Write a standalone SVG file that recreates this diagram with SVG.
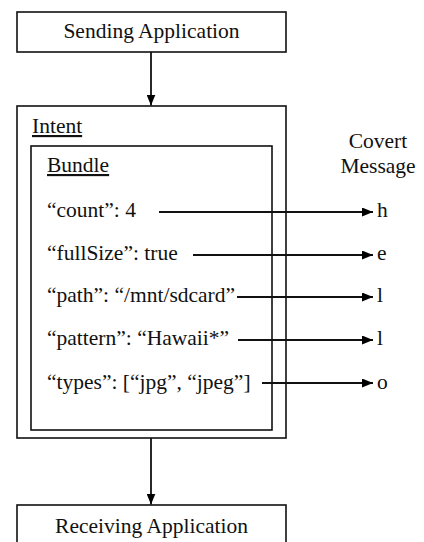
<svg xmlns="http://www.w3.org/2000/svg" width="424" height="542" viewBox="0 0 424 542">
<defs>
<marker id="ah" markerUnits="userSpaceOnUse" markerWidth="11" markerHeight="9" refX="11" refY="4.5" orient="auto">
<path d="M0,0 L11,4.5 L0,9 z" fill="#000"/>
</marker>
<style>
text{font-family:'Liberation Serif','Times New Roman',serif;font-size:21.5px;fill:#111}
.box{fill:#fff;stroke:#111;stroke-width:1.6}
.c{fill:none;stroke:#111;stroke-width:1.8;marker-end:url(#ah)}
.m{text-anchor:middle}
.u{text-decoration:underline}
</style>
</defs>
<rect width="424" height="542" fill="#fff"/>
<g id="sending">
<rect class="box" x="17" y="12" width="269" height="40"/>
<text class="m" x="151.5" y="38">Sending Application</text>
</g>
<g id="intent">
<rect class="box" x="17" y="106" width="269" height="332"/>
<text class="u" x="32" y="133">Intent</text>
</g>
<g id="bundle">
<rect class="box" x="31" y="146" width="241" height="284"/>
<text class="u" x="47" y="172">Bundle</text>
<text x="47" y="217">“count”: 4</text>
<text x="47" y="260">“fullSize”: true</text>
<text x="47" y="302">“path”: “/mnt/sdcard”</text>
<text x="47" y="345">“pattern”: “Hawaii*”</text>
<text x="47" y="389">“types”: [“jpg”, “jpeg”]</text>
</g>
<g id="covert">
<text class="m" x="378" y="148">Covert</text>
<text class="m" x="378" y="173">Message</text>
<text x="377" y="217">h</text>
<text x="377" y="260">e</text>
<text x="377" y="302">l</text>
<text x="377" y="345">l</text>
<text x="377" y="389">o</text>
</g>
<g id="receiving">
<rect class="box" x="17" y="505" width="269" height="45"/>
<text class="m" x="151.5" y="533">Receiving Application</text>
</g>
<g id="connectors">
<line class="c" x1="151" y1="52" x2="151" y2="105.5"/>
<line class="c" x1="151" y1="438" x2="151" y2="504.5"/>
<line class="c" x1="159" y1="212" x2="373" y2="212"/>
<line class="c" x1="193" y1="255" x2="373" y2="255"/>
<line class="c" x1="237" y1="297" x2="373" y2="297"/>
<line class="c" x1="238" y1="340" x2="373" y2="340"/>
<line class="c" x1="262" y1="383" x2="373" y2="383"/>
</g>
</svg>
